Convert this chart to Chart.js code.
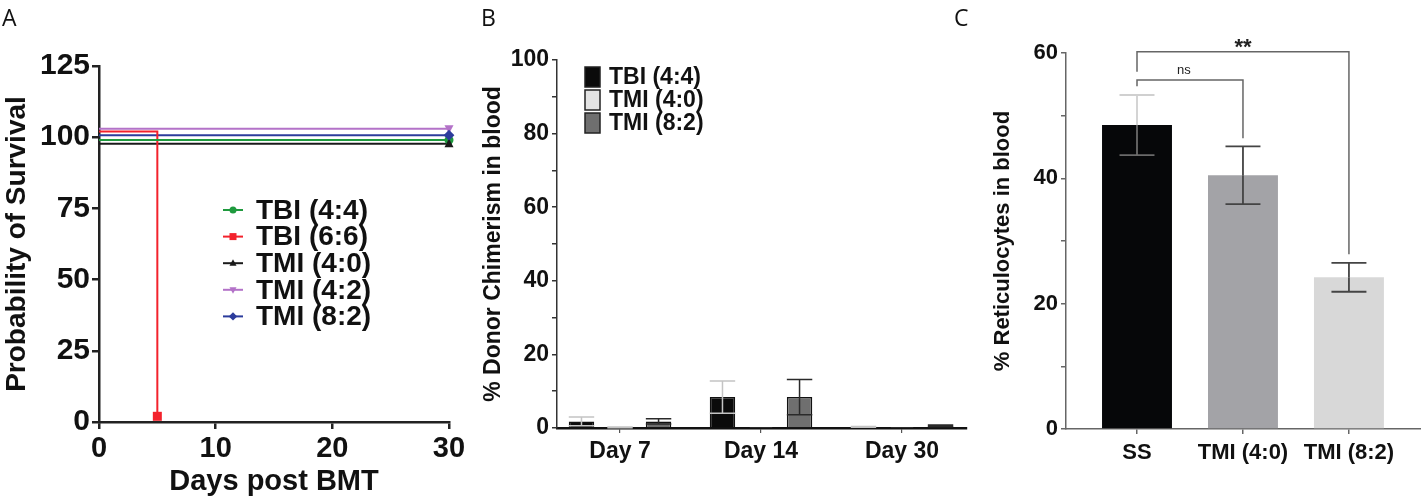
<!DOCTYPE html>
<html>
<head>
<meta charset="utf-8">
<script src="https://cdn.jsdelivr.net/npm/chart.js@4.4.1/dist/chart.umd.min.js"></script>
<style>
  html,body{margin:0;padding:0;background:#fff;}
  #wrap{position:relative;width:1421px;height:499px;overflow:hidden;background:#fff;}
  canvas{position:absolute;top:0;}
  .plabel{position:absolute;top:1px;font-family:"Open Sans",sans-serif;font-size:23px;color:#111;}
</style>
</head>
<body>
<div id="wrap">
  <canvas id="cA" width="480" height="499" style="left:0px"></canvas>
  <canvas id="cB" width="490" height="499" style="left:480px"></canvas>
  <canvas id="cC" width="461" height="499" style="left:960px"></canvas>
  <div class="plabel" style="left:2px">A</div>
  <div class="plabel" style="left:481px">B</div>
  <div class="plabel" style="left:954px">C</div>
</div>
<script>
// ---------- DATA ----------
// Panel A: survival
const survNames = ['TBI (4:4)', 'TBI (6:6)', 'TMI (4:0)', 'TMI (4:2)', 'TMI (8:2)'];
const survDays  = [[0, 30], [0, 5, 5], [0, 30], [0, 30], [0, 30]];
const survPct   = [[99, 99], [102, 102, 2], [97.7, 97.7], [103, 103], [100.7, 100.7]];
const survXTicks = [0, 10, 20, 30];
const survYTicks = [0, 25, 50, 75, 100, 125];

// Panel B: donor chimerism
const chimDays  = ['Day 7', 'Day 14', 'Day 30'];
const chimNames = ['TBI (4:4)', 'TMI (4:0)', 'TMI (8:2)'];
const chimTBI44    = [1.8, 8.4, 0.3];
const chimTBI44Err = [1.2, 4.4, 0.1];
const chimTMI40    = [0.2, 0.05, 0.05];
const chimTMI40Err = [0.1, 0, 0];
const chimTMI82    = [1.8, 8.4, 0.6];
const chimTMI82Err = [0.7, 4.8, 0.2];
const chimYTicks = [0, 20, 40, 60, 80, 100];

// Panel C: reticulocytes
const retGroups = ['SS', 'TMI (4:0)', 'TMI (8:2)'];
const retMean   = [48.5, 40.5, 24.2];
const retErr    = [4.8, 4.6, 2.3];
const retYTicks = [0, 20, 40, 60];
// significance brackets (group indices, bracket level, leg ends, label)
const sigFrom   = [0, 0];
const sigTo     = [1, 2];
const sigLevel  = [55.7, 60.2];
const sigLeftEnd  = [54.7, 57.0];
const sigRightEnd = [46.4, 27.9];
const sigText   = ['ns', '**'];

// ---------- COMMON ----------
const FONT = "'Liberation Sans', Arial, Helvetica, sans-serif";
Chart.defaults.font.family = FONT;
Chart.defaults.color = '#111';
Chart.defaults.animation = false;

function drawMarker(ctx, style, x, y, r, rot) {
  ctx.save();
  ctx.translate(x, y);
  if (rot) ctx.rotate(rot * Math.PI / 180);
  ctx.beginPath();
  if (style === 'circle') ctx.arc(0, 0, r, 0, Math.PI * 2);
  else if (style === 'rect') ctx.rect(-r, -r, 2 * r, 2 * r);
  else if (style === 'triangle') { ctx.moveTo(0, -r * 1.15); ctx.lineTo(r, r * 0.75); ctx.lineTo(-r, r * 0.75); ctx.closePath(); }
  else if (style === 'rectRot') { ctx.moveTo(0, -r * 1.2); ctx.lineTo(r * 1.2, 0); ctx.lineTo(0, r * 1.2); ctx.lineTo(-r * 1.2, 0); ctx.closePath(); }
  ctx.fill();
  ctx.restore();
}

// ---------- PANEL A ----------
const survStyles = [
  {color: '#1f9a3e', point: 'circle', rot: 0},
  {color: '#f3222c', point: 'rect', rot: 0},
  {color: '#1a1a1a', point: 'triangle', rot: 0},
  {color: '#b372c8', point: 'triangle', rot: 180},
  {color: '#2c3c9c', point: 'rectRot', rot: 0}
];

const legendA = {
  id: 'legendA',
  afterDraw(chart) {
    const {ctx, chartArea: ca} = chart;
    ctx.save();
    survNames.forEach((name, i) => {
      const st = survStyles[i];
      const y = ca.top + 144 + i * 26.6;
      const x0 = ca.left + 124, x1 = ca.left + 144;
      ctx.strokeStyle = st.color; ctx.lineWidth = 2;
      ctx.beginPath(); ctx.moveTo(x0, y); ctx.lineTo(x1, y); ctx.stroke();
      ctx.fillStyle = st.color;
      drawMarker(ctx, st.point, (x0 + x1) / 2, y, 3.5, st.rot);
      ctx.fillStyle = '#111';
      ctx.font = 'bold 28px ' + FONT;
      ctx.textBaseline = 'middle'; ctx.textAlign = 'left';
      ctx.fillText(name, ca.left + 157, y + 1);
    });
    ctx.restore();
  }
};

const markersA = {
  id: 'markersA',
  afterDatasetsDraw(chart) {
    const {ctx, scales: {x, y}} = chart;
    ctx.save();
    survNames.forEach((n, i) => {
      const st = survStyles[i];
      const k = survDays[i].length - 1;
      ctx.fillStyle = st.color;
      drawMarker(ctx, st.point, x.getPixelForValue(survDays[i][k]), y.getPixelForValue(survPct[i][k]), 4.5, st.rot);
    });
    ctx.restore();
  }
};

new Chart(document.getElementById('cA'), {
  type: 'line',
  data: {
    datasets: survNames.map((n, i) => ({
      label: n,
      data: survDays[i].map((d, j) => ({x: d, y: survPct[i][j]})),
      borderColor: survStyles[i].color,
      backgroundColor: survStyles[i].color,
      borderWidth: 2,
      pointRadius: 0,
      tension: 0,
      fill: false,
      clip: false
    }))
  },
  options: {
    responsive: false,
    animation: false,
    layout: {padding: {top: 66, right: 31, left: 0, bottom: 0}},
    plugins: {legend: {display: false}, tooltip: {enabled: false}},
    scales: {
      x: {
        type: 'linear', min: 0, max: 30,
        afterFit: s => { s.height = 77; },
        afterBuildTicks: s => { s.ticks = survXTicks.map(v => ({value: v})); },
        border: {display: true, color: '#222', width: 2.5},
        grid: {display: true, drawOnChartArea: false, drawTicks: true, tickLength: 7, color: '#222', lineWidth: 2.5},
        ticks: {font: {size: 29, weight: 'bold'}, color: '#111', padding: 3, maxRotation: 0},
        title: {display: true, text: 'Days post BMT', font: {size: 29, weight: 'bold'}, color: '#111', padding: {top: 0, bottom: 0}}
      },
      y: {
        type: 'linear', min: 0, max: 125,
        afterFit: s => { s.width = 99; },
        afterBuildTicks: s => { s.ticks = survYTicks.map(v => ({value: v})); },
        border: {display: true, color: '#222', width: 2.5},
        grid: {display: true, drawOnChartArea: false, drawTicks: true, tickLength: 7, color: '#222', lineWidth: 2.5},
        ticks: {font: {size: 30, weight: 'bold'}, color: '#111', padding: 2},
        title: {display: true, text: 'Probability of Survival', font: {size: 28, weight: 'bold'}, color: '#111', padding: {top: 0, bottom: 0}}
      }
    }
  },
  plugins: [markersA, legendA]
});

// ---------- error bar plugin (B) ----------
const errBars = {
  id: 'errBars',
  afterDatasetsDraw(chart) {
    const {ctx, scales: {y}} = chart;
    ctx.save();
    chart.data.datasets.forEach((ds, di) => {
      if (!ds.errors) return;
      const meta = chart.getDatasetMeta(di);
      meta.data.forEach((bar, i) => {
        const e = ds.errors[i];
        if (!e) return;
        const v = ds.data[i].y;
        const x = bar.x;
        const pt = y.getPixelForValue(v + e), pm = y.getPixelForValue(v), pb = y.getPixelForValue(v - e);
        const cw = bar.width * ds.capFrac / 2;
        ctx.lineWidth = ds.errWidth;
        ctx.strokeStyle = ds.errColor;
        ctx.beginPath();
        ctx.moveTo(x, pb); ctx.lineTo(x, pt);
        ctx.moveTo(x - cw, pt); ctx.lineTo(x + cw, pt);
        ctx.moveTo(x - cw, pb); ctx.lineTo(x + cw, pb);
        ctx.stroke();
      });
    });
    ctx.restore();
  }
};

// ---------- PANEL B ----------
const chimStyles = [
  {fill: '#0b0b0b', err: '#c4c4c4'},
  {fill: '#e3e3e3', err: '#c4c4c4'},
  {fill: '#6f6f6f', err: '#2a2a2a'}
];
const chimVals = [chimTBI44, chimTMI40, chimTMI82];
const chimErrs = [chimTBI44Err, chimTMI40Err, chimTMI82Err];

const legendB = {
  id: 'legendB',
  afterDraw(chart) {
    const {ctx, chartArea: ca} = chart;
    ctx.save();
    chimNames.forEach((n, i) => {
      const yc = ca.top + 17 + i * 23;
      ctx.fillStyle = chimStyles[i].fill;
      ctx.strokeStyle = '#222'; ctx.lineWidth = 1.5;
      ctx.fillRect(ca.left + 28, yc - 10, 15, 20);
      ctx.strokeRect(ca.left + 28, yc - 10, 15, 20);
      ctx.fillStyle = '#111';
      ctx.font = 'bold 23px ' + FONT;
      ctx.textBaseline = 'middle'; ctx.textAlign = 'left';
      ctx.fillText(n, ca.left + 52, yc + 1);
    });
    ctx.restore();
  }
};

new Chart(document.getElementById('cB'), {
  type: 'bar',
  data: {
    datasets: chimNames.map((n, i) => ({
      label: n,
      data: chimVals[i].map((v, j) => ({x: j, y: v})),
      backgroundColor: chimStyles[i].fill,
      borderColor: '#111',
      borderWidth: 1.5,
      categoryPercentage: 0.82,
      barPercentage: 0.66,
      errors: chimErrs[i],
      errColor: chimStyles[i].err,
      errWidth: 1.5,
      capFrac: 1
    }))
  },
  options: {
    responsive: false,
    animation: false,
    layout: {padding: {top: 60, right: 3, left: 0, bottom: 0}},
    plugins: {legend: {display: false}, tooltip: {enabled: false}},
    scales: {
      x: {
        type: 'linear', min: -0.447, max: 2.461, offset: false,
        afterFit: s => { s.height = 71; },
        afterBuildTicks: s => { s.ticks = chimDays.map((d, i) => ({value: i})); },
        border: {display: true, color: '#111', width: 2.5},
        grid: {display: true, offset: false, drawOnChartArea: false, drawTicks: true, tickLength: 5, color: '#555', lineWidth: 1.2},
        ticks: {font: {size: 23, weight: 'bold'}, color: '#111', padding: 5, maxRotation: 0, autoSkip: false,
                callback: v => chimDays[v]}
      },
      y: {
        type: 'linear', min: 0, max: 100,
        afterFit: s => { s.width = 77; },
        afterBuildTicks: s => { s.ticks = []; for (let v = 0; v <= 100; v += 10) s.ticks.push({value: v}); },
        border: {display: true, color: '#333', width: 1.5},
        grid: {display: true, drawOnChartArea: false, drawTicks: true, tickLength: 5, color: '#333', lineWidth: 1.5},
        ticks: {font: {size: 23, weight: 'bold'}, color: '#111', padding: 3, autoSkip: false,
                callback: v => chimYTicks.includes(v) ? String(v) : ''},
        title: {display: true, text: '% Donor Chimerism in blood', font: {size: 23, weight: 'bold'}, color: '#111', padding: {top: 0, bottom: 0}}
      }
    }
  },
  plugins: [errBars, legendB]
});

// ---------- PANEL C ----------
const retFills = ['#060709', '#a3a3a7', '#d8d8d8'];
const retErrAbove = ['#d0d0d0', '#444', '#444'];
const retErrInside = ['#6a6a6a', '#444', '#444'];

const bracketsC = {
  id: 'bracketsC',
  afterDraw(chart) {
    const {ctx, scales: {x, y}} = chart;
    ctx.save();
    ctx.strokeStyle = '#666'; ctx.lineWidth = 1.5;
    sigText.forEach((t, i) => {
      const xl = x.getPixelForValue(sigFrom[i]), xr = x.getPixelForValue(sigTo[i]);
      const yb = y.getPixelForValue(sigLevel[i]);
      ctx.beginPath();
      ctx.moveTo(xl, y.getPixelForValue(sigLeftEnd[i]));
      ctx.lineTo(xl, yb); ctx.lineTo(xr, yb);
      ctx.lineTo(xr, y.getPixelForValue(sigRightEnd[i]));
      ctx.stroke();
      ctx.fillStyle = '#222';
      ctx.textAlign = 'center'; ctx.textBaseline = 'alphabetic';
      if (t === 'ns') { ctx.font = '13px ' + FONT; ctx.fillText(t, (xl + xr) / 2 - 6, yb - 6); }
      else { ctx.font = 'bold 22px ' + FONT; ctx.fillText(t, (xl + xr) / 2, yb + 2); }
    });
    ctx.restore();
  }
};

const errBarsC = {
  id: 'errBarsC',
  afterDatasetsDraw(chart) {
    const {ctx, scales: {y}} = chart;
    const meta = chart.getDatasetMeta(0);
    ctx.save();
    meta.data.forEach((bar, i) => {
      const v = retMean[i], e = retErr[i];
      const x = bar.x;
      const pt = y.getPixelForValue(v + e), pm = y.getPixelForValue(v), pb = y.getPixelForValue(v - e);
      const cw = bar.width * 0.25;
      ctx.lineWidth = 1.8;
      ctx.strokeStyle = retErrAbove[i];
      ctx.beginPath(); ctx.moveTo(x, pm); ctx.lineTo(x, pt); ctx.moveTo(x - cw, pt); ctx.lineTo(x + cw, pt); ctx.stroke();
      ctx.strokeStyle = retErrInside[i];
      ctx.beginPath(); ctx.moveTo(x, pm); ctx.lineTo(x, pb); ctx.moveTo(x - cw, pb); ctx.lineTo(x + cw, pb); ctx.stroke();
    });
    ctx.restore();
  }
};

new Chart(document.getElementById('cC'), {
  type: 'bar',
  data: {
    datasets: [{
      label: '% Reticulocytes in blood',
      data: retMean.map((v, j) => ({x: j, y: v})),
      backgroundColor: retFills,
      borderWidth: 0,
      categoryPercentage: 1,
      barPercentage: 0.66
    }]
  },
  options: {
    responsive: false,
    animation: false,
    layout: {padding: {top: 53, right: 0, left: 30, bottom: 0}},
    plugins: {legend: {display: false}, tooltip: {enabled: false}},
    scales: {
      x: {
        type: 'linear', min: -0.67, max: 2.68, offset: false,
        afterFit: s => { s.height = 70; },
        afterBuildTicks: s => { s.ticks = retGroups.map((g, i) => ({value: i})); },
        border: {display: true, color: '#666', width: 1.5},
        grid: {display: true, offset: false, drawOnChartArea: false, drawTicks: true, tickLength: 5, color: '#666', lineWidth: 1.5},
        ticks: {font: {size: 22, weight: 'bold'}, color: '#111', padding: 6, maxRotation: 0, autoSkip: false,
                callback: v => retGroups[v]}
      },
      y: {
        type: 'linear', min: 0, max: 60,
        afterFit: s => { s.width = 76; },
        afterBuildTicks: s => { s.ticks = []; for (let v = 0; v <= 60; v += 10) s.ticks.push({value: v}); },
        border: {display: true, color: '#666', width: 1.5},
        grid: {display: true, drawOnChartArea: false, drawTicks: true, tickLength: 5, color: '#666', lineWidth: 1.5},
        ticks: {font: {size: 22, weight: 'bold'}, color: '#111', padding: 3, autoSkip: false,
                callback: v => retYTicks.includes(v) ? String(v) : ''},
        title: {display: true, text: '% Reticulocytes in blood', font: {size: 22, weight: 'bold'}, color: '#111', padding: {top: 0, bottom: 0}}
      }
    }
  },
  plugins: [errBarsC, bracketsC]
});
</script>
</body>
</html>
